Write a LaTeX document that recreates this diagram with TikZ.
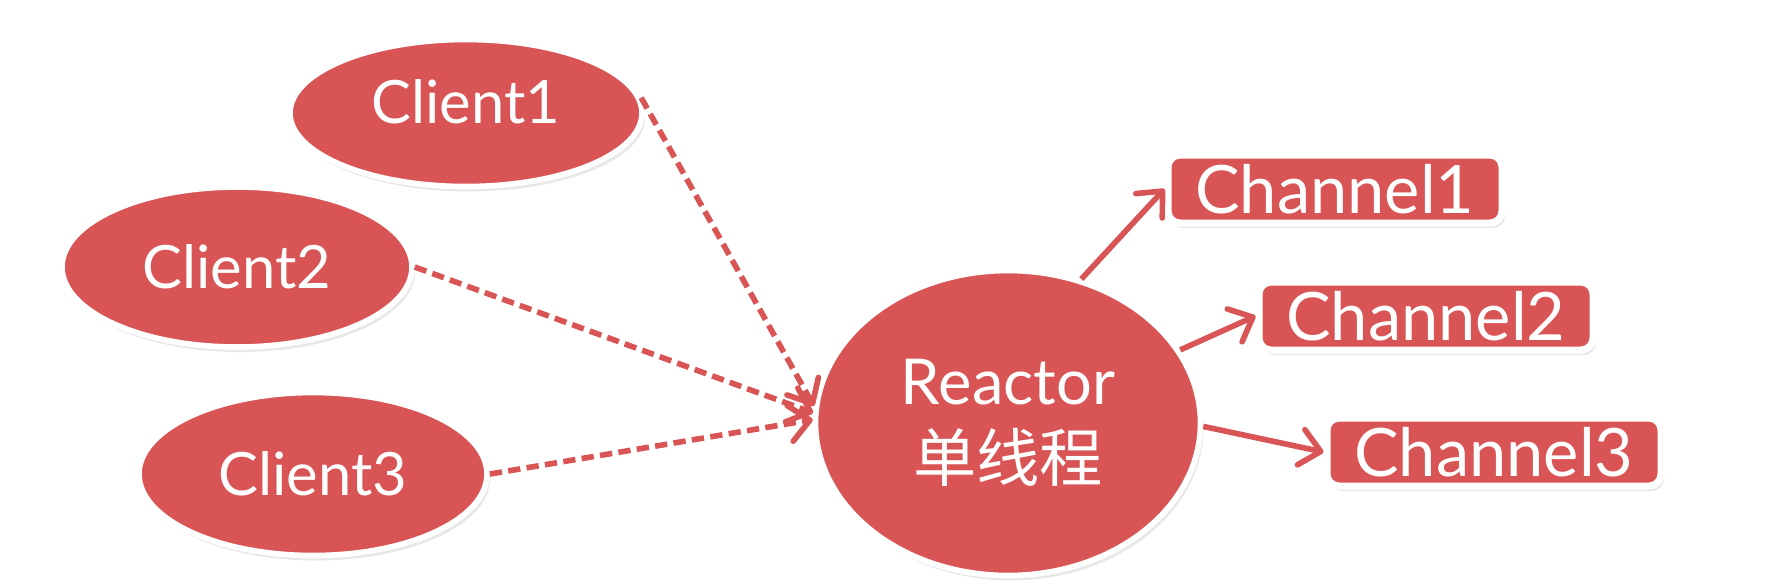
\documentclass[tikz,border=0pt]{standalone}
\usepackage{fontspec}
\setmainfont{Lato}
\newfontfamily\cjk{Noto Sans CJK SC}
\usetikzlibrary{arrows.meta,shapes.geometric,shadows}
\definecolor{rxred}{RGB}{217,84,85}

\begin{document}
\begin{tikzpicture}[x=0.1mm,y=-0.1mm,
    every node/.style={align=center,text=white,inner sep=0pt},
    blob/.style={ellipse,fill=rxred,draw=white,line width=1.6pt,
      drop shadow={shadow xshift=0.3mm,shadow yshift=-0.5mm,opacity=0.18}},
    chbox/.style={rectangle,rounded corners=1.2mm,fill=rxred,draw=white,line width=2pt,
      minimum width=33.4mm,minimum height=6.8mm,font=\fontsize{19}{21}\selectfont,
      drop shadow={shadow xshift=0.3mm,shadow yshift=-0.5mm,opacity=0.18}},
    req/.style={draw=rxred,line width=1.6pt,dash pattern=on 3.5pt off 1.8pt,
      -{Straight Barb[length=2mm,width=3.6mm,round]}},
    dispatch/.style={draw=rxred,line width=1.6pt,
      -{Straight Barb[length=2mm,width=3.6mm,round]}}]
        \useasboundingbox (0,0) rectangle (1774,584);
        \node[blob,minimum width=35.2mm,minimum height=14.7mm,text depth=2.4mm,font=\fontsize{17}{19}\selectfont] (cli1) at (466,113) {Client1};
        \node[blob,minimum width=35mm,minimum height=16mm,font=\fontsize{17}{19}\selectfont] (cli2) at (237,267) {Client2};
        \node[blob,minimum width=34.8mm,minimum height=16.3mm,font=\fontsize{17}{19}\selectfont] (cli3) at (313,474) {Client3};
        \node[blob,minimum width=38.5mm,minimum height=30.5mm,font=\fontsize{18}{22}\selectfont] (reactor) at (1008,423) {Reactor\\{\cjk 单线程}};
        \node[chbox] (ch1) at (1335,189) {Channel1};
        \node[chbox] (ch2) at (1426,316) {Channel2};
        \node[chbox] (ch3) at (1494,452) {Channel3};
        \draw[req] (cli1.5) -- (reactor.175);
        \draw[req] (cli2.east) -- (reactor.177);
        \draw[req] (cli3.east) -- (reactor.179);
        \draw[dispatch] (reactor.63) -- (ch1.west);
        \draw[dispatch] (reactor.23) -- (ch2.west);
        \draw[dispatch] (reactor.-1) -- (ch3.west);
      \end{tikzpicture}
\end{document}
